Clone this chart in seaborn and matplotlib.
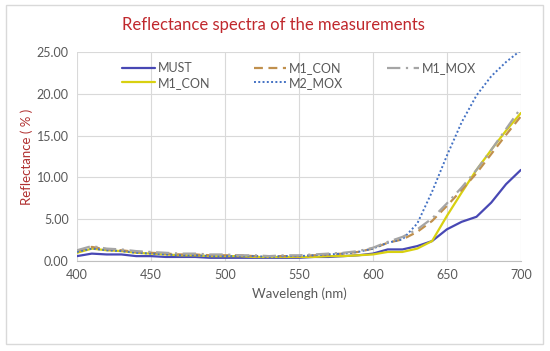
import pandas as pd
import matplotlib.pyplot as plt
import seaborn as sns
from matplotlib.patches import Rectangle


# Reflectance spectra of the measurements

wavelength = list(range(400, 701, 10))

must = [0.6, 0.9, 0.8, 0.8, 0.6, 0.6, 0.5, 0.5, 0.5, 0.4, 0.4, 0.4, 0.4, 0.4, 0.4, 0.4,
        0.5, 0.5, 0.6, 0.7, 0.9, 1.4, 1.4, 1.8, 2.4, 3.8, 4.7, 5.3, 7.0, 9.2, 10.9]
m1_con_yellow = [1.0, 1.5, 1.3, 1.2, 1.0, 0.9, 0.8, 0.7, 0.7, 0.6, 0.6, 0.6, 0.5, 0.5, 0.5, 0.5,
                 0.5, 0.6, 0.6, 0.7, 0.8, 1.1, 1.1, 1.5, 2.4, 5.4, 8.2, 10.9, 13.3, 15.6, 17.7]
m1_con_dashed = [1.2, 1.7, 1.4, 1.3, 1.1, 1.0, 0.9, 0.8, 0.8, 0.7, 0.7, 0.7, 0.6, 0.6, 0.6, 0.6,
                 0.7, 0.8, 0.9, 1.1, 1.5, 2.2, 2.6, 3.5, 4.8, 6.6, 8.5, 10.5, 12.8, 15.1, 17.3]
m1_mox = [1.3, 1.8, 1.5, 1.4, 1.2, 1.1, 1.0, 0.9, 0.9, 0.8, 0.8, 0.7, 0.7, 0.6, 0.7, 0.7,
          0.8, 0.9, 1.0, 1.2, 1.6, 2.3, 2.9, 3.8, 5.1, 6.9, 8.8, 10.9, 13.3, 15.8, 18.3]
m2_mox = [1.1, 1.5, 1.3, 1.2, 1.0, 0.9, 0.8, 0.7, 0.7, 0.6, 0.6, 0.6, 0.6, 0.5, 0.6, 0.6,
          0.7, 0.8, 0.9, 1.1, 1.5, 2.2, 2.6, 4.5, 8.3, 12.6, 16.6, 19.8, 22.1, 23.8, 25.2]

df = pd.DataFrame({'wl': wavelength, 'MUST': must, 'M1_CON_y': m1_con_yellow,
                   'M1_CON_d': m1_con_dashed, 'M1_MOX': m1_mox, 'M2_MOX': m2_mox})

sns.set_style("white")
plt.rcParams['font.family'] = ['Lato', 'DejaVu Sans']

fig = plt.figure(figsize=(5.5, 3.51), dpi=100)
ax = fig.add_axes([0.14, 0.256, 0.807, 0.596])

# order here sets the legend layout (3 columns, filled column by column)
sns.lineplot(data=df, x='wl', y='MUST', ax=ax, color='#4848B4', lw=1.6, label='MUST')
sns.lineplot(data=df, x='wl', y='M1_CON_y', ax=ax, color='#D8D010', lw=1.6, label='M1_CON')
sns.lineplot(data=df, x='wl', y='M1_CON_d', ax=ax, color='#C0904D', lw=1.6,
             label='M1_CON').lines[-1].set_dashes((4, 2.5))
sns.lineplot(data=df, x='wl', y='M2_MOX', ax=ax, color='#4472C4', lw=1.4,
             label='M2_MOX').lines[-1].set_dashes((1, 1.2))
sns.lineplot(data=df, x='wl', y='M1_MOX', ax=ax, color='#A5A5A5', lw=1.6,
             label='M1_MOX').lines[-1].set_dashes((6, 2.5, 1, 2.5))

ax.set_xlim(400, 700)
ax.set_ylim(0, 25)
ax.set_xticks(range(400, 701, 50))
ax.set_yticks(range(0, 26, 5))
ax.set_yticklabels([f"{v:.2f}" for v in range(0, 26, 5)])
ax.grid(True, color='#D9D9D9', lw=0.8)
for s in ['top', 'right', 'left']:
    ax.spines[s].set_visible(False)
ax.spines['bottom'].set_color('#BFBFBF')
ax.tick_params(length=0, labelsize=9, labelcolor='#595959', pad=6)

ax.set_xlabel("Wavelengh (nm)", fontsize=9.5, color='#595959', labelpad=4)
ax.set_ylabel("Reflectance ( % )", fontsize=9.5, color='#B03030', labelpad=3)

leg = ax.legend(ncol=3, loc='upper left', bbox_to_anchor=(0.091, 0.975), frameon=False,
                fontsize=9, handlelength=2.6, columnspacing=3.5, labelspacing=0.2,
                handletextpad=0.2, borderaxespad=0)
for t in leg.get_texts():
    t.set_color('#595959')

fig.text(0.497, 0.929, "Reflectance spectra of the measurements", ha='center', va='center',
         fontsize=12, color='#C0282D')

fig.patches.append(Rectangle((0.011, 0.02), 0.977, 0.966, transform=fig.transFigure,
                             fill=False, edgecolor='#D9D9D9', lw=1))

fig.savefig("out.png", dpi=100)
